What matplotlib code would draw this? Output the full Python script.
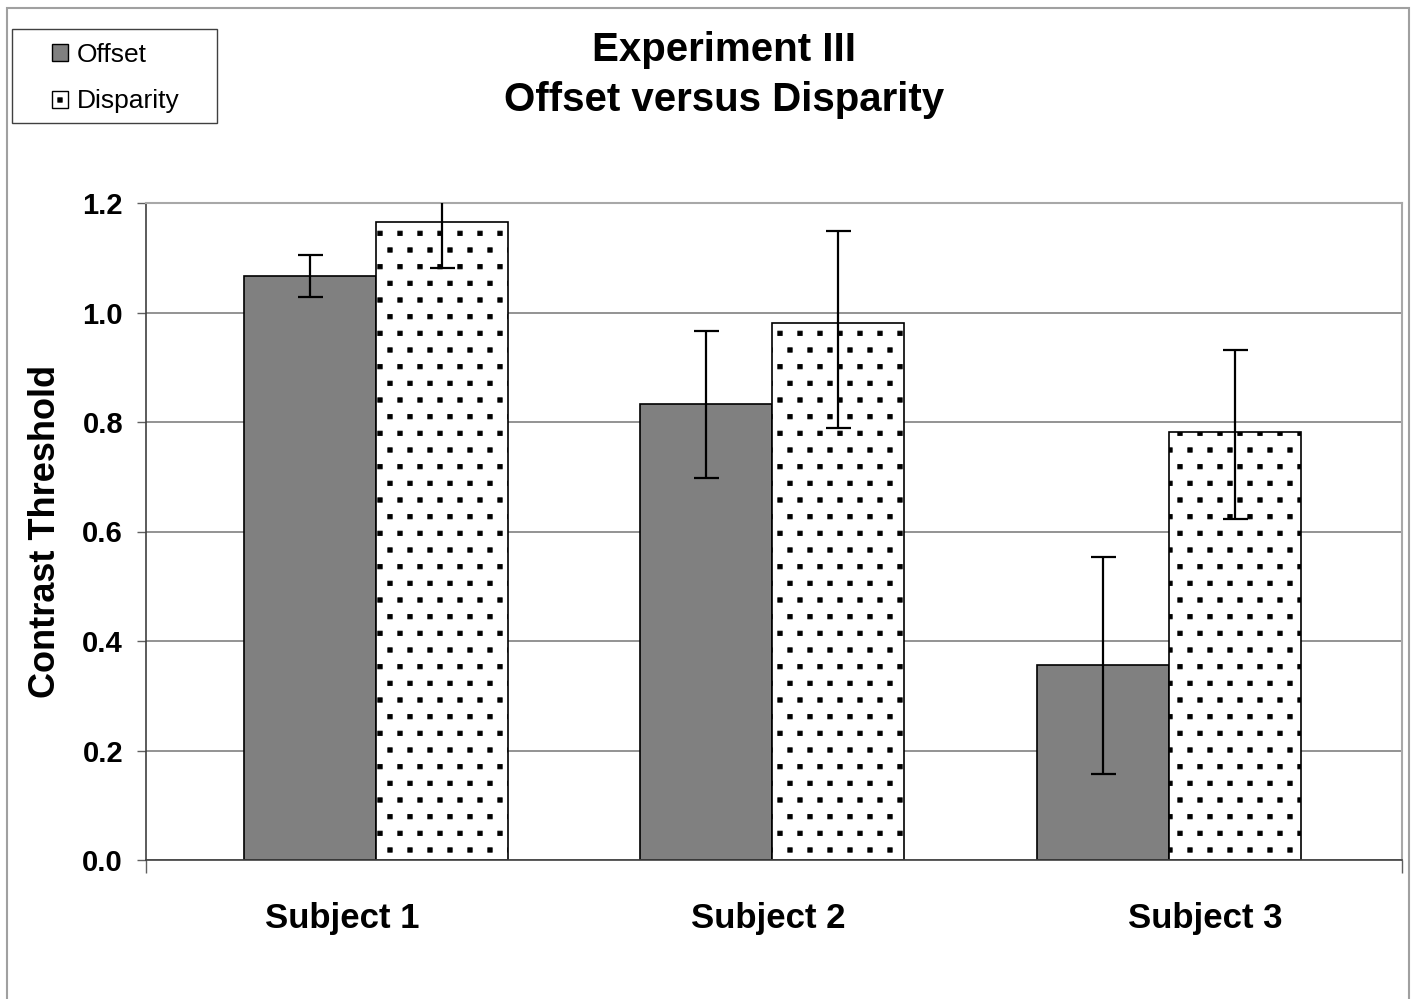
import numpy as np
import matplotlib
matplotlib.use('Agg')
import matplotlib.pyplot as plt
import matplotlib.hatch as mhatch
from matplotlib.path import Path
from matplotlib.patches import Patch, Rectangle

plt.rcParams['font.family'] = ['Liberation Sans', 'DejaVu Sans']
plt.rcParams['hatch.linewidth'] = 0.6

subjects = ['Subject 1', 'Subject 2', 'Subject 3']
offset = [1.067, 0.833, 0.356]
offset_err_lo = [0.039, 0.135, 0.199]
offset_err_hi = [0.038, 0.133, 0.197]
disparity = [1.165, 0.981, 0.782]
disparity_err_lo = [0.084, 0.192, 0.159]
disparity_err_hi = [0.084, 0.168, 0.149]
yticks = [0.0, 0.2, 0.4, 0.6, 0.8, 1.0, 1.2]


# excel-like "dotted" fill: small square dots in staggered rows
class SquareDots:
    ncol = 5
    nrow = 6
    half = 0.022

    def __init__(self, hatch, density):
        self.centers = []
        if '.' in hatch:
            for r in range(self.nrow + 1):
                y = r / self.nrow
                if r % 2 == 0:
                    xs = np.arange(self.ncol + 1) / self.ncol
                else:
                    xs = (np.arange(self.ncol) + 0.5) / self.ncol
                self.centers += [(xx, y) for xx in xs]
        self.num_vertices = 5 * len(self.centers)

    def set_vertices_and_codes(self, vertices, codes):
        h = self.half
        sq = np.array([[-h, -h], [h, -h], [h, h], [-h, h], [-h, -h]])
        for i, (cx, cy) in enumerate(self.centers):
            vertices[5*i:5*i+5] = sq + [cx, cy]
            codes[5*i:5*i+5] = [Path.MOVETO, Path.LINETO, Path.LINETO,
                                Path.LINETO, Path.CLOSEPOLY]


mhatch._hatch_types = [SquareDots]

fig = plt.figure(figsize=(14.16, 9.99), dpi=100)
ax = fig.add_axes([146/1416, 1-860/999, 1256/1416, 657/999])

x = np.arange(len(subjects))
w = 0.333
ax.bar(x - w/2, offset, w, color='#808080', edgecolor='black', linewidth=1.2, zorder=2)
ax.bar(x + w/2, disparity, w, color='white', edgecolor='black', linewidth=1.2,
       hatch='.', zorder=2)
ax.errorbar(x - w/2, offset, yerr=[offset_err_lo, offset_err_hi], fmt='none',
            ecolor='black', elinewidth=1.6, capsize=9, capthick=1.6, zorder=3)
ax.errorbar(x + w/2, disparity, yerr=[disparity_err_lo, disparity_err_hi], fmt='none',
            ecolor='black', elinewidth=1.6, capsize=9, capthick=1.6, zorder=3)

ax.set_xlim(-0.58, 2.588)
ax.set_ylim(0, 1.2)
ax.set_yticks(yticks)
ax.set_yticklabels(['%.1f' % t for t in yticks], fontsize=21, fontweight='bold')
ax.yaxis.grid(True, color='#808080', linewidth=1.2, zorder=0)
ax.set_axisbelow(True)
ax.tick_params(axis='y', direction='out', length=6.5, width=1, color='#606060', pad=10)

# end ticks on x axis, labels shifted as in the original
ax.set_xticks([-0.58, 2.588])
ax.set_xticklabels(['', ''])
ax.tick_params(axis='x', which='major', direction='out', length=9, width=1, color='#606060')
label_shift = [-0.086, -0.01, 0.093]
ax.set_xticks(x + np.array(label_shift), minor=True)
ax.set_xticklabels(subjects, minor=True, fontsize=25, fontweight='bold')
ax.tick_params(axis='x', which='minor', length=0, pad=30)

for s in ['top', 'right']:
    ax.spines[s].set_color('#a8a8a8')
    ax.spines[s].set_linewidth(1.5)
for s in ['left', 'bottom']:
    ax.spines[s].set_color('#404040')
    ax.spines[s].set_linewidth(1.2)

ax.set_ylabel('Contrast Threshold', fontsize=26, fontweight='bold')
ax.yaxis.set_label_coords(-0.066, 0.5)

fig.text(724/1416, 1-75/999, 'Experiment III\nOffset versus Disparity', ha='center',
         va='center', fontsize=29, fontweight='bold', linespacing=1.4)

handles = [Patch(facecolor='#808080', edgecolor='black'),
           Patch(facecolor='white', edgecolor='black', hatch='.')]
leg = fig.legend(handles, ['Offset', 'Disparity'], loc='upper left',
                 bbox_to_anchor=(52/1416, 1-43/999), fontsize=19, frameon=False,
                 handlelength=0.6, handleheight=0.6,
                 handletextpad=0.35, labelspacing=0.85, borderpad=0, borderaxespad=0)

# legend frame and outer chart border
fig.patches.append(Rectangle((12/1416, 1-123/999), 205/1416, 94/999,
                             transform=fig.transFigure, fill=False,
                             edgecolor='#404040', linewidth=1.0))
fig.patches.append(Rectangle((7/1416, -0.01), 1402/1416, 1-8/999+0.01,
                             transform=fig.transFigure, fill=False,
                             edgecolor='#a0a0a0', linewidth=1.5))

fig.savefig('out.png', dpi=100)
